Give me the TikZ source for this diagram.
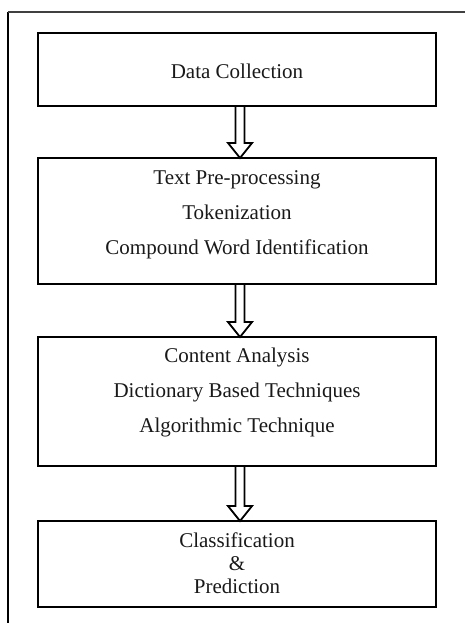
\documentclass[tikz,border=0pt]{standalone}
\usepackage{fontspec}
\setmainfont{Liberation Serif}
\usetikzlibrary{calc}

\newcommand{\hollowdown}[2]{%
\draw[fatarrow] ($(#1.south -| ax)+(-4.5,0)$) -- ($(#2.north -| ax)+(-4.5,-15)$) -- ($(#2.north -| ax)+(-12,-15)$) -- (#2.north -| ax) -- ($(#2.north -| ax)+(12,-15)$) -- ($(#2.north -| ax)+(4.5,-15)$) -- ($(#1.south -| ax)+(4.5,0)$);}

\begin{document}
\begin{tikzpicture}[x=1pt,y=-1pt,line cap=butt,line join=miter,
stagebox/.style={draw,line width=2.4pt,minimum width=398pt,inner sep=0pt,outer sep=0pt},
stagetext/.style={align=center,font=\fontsize{21}{35}\selectfont,text=black!90},
fatarrow/.style={line width=1.8pt}]
\useasboundingbox (0,0) rectangle (465,623);
\coordinate (ax) at (240,0);
\draw[line width=2.6pt] (8,623) -- (8,12);
\draw[line width=1.3pt,black!75] (8,12) -- (465,12);
\node[stagebox,minimum height=73pt] (dc) at (237,69.5) {};
\node[stagebox,minimum height=126pt] (pre) at (237,221) {};
\node[stagebox,minimum height=129pt] (ca) at (237,401.5) {};
\node[stagebox,minimum height=86pt] (cp) at (237,564) {};
\node[stagetext] (dctxt) at (237,71) {Data Collection};
\node[stagetext] (pretxt) at (237,215) {Text Pre-processing\\Tokenization\\Compound Word Identification};
\node[stagetext] (catxt) at (237,392.5) {Content Analysis\\Dictionary Based Techniques\\Algorithmic Technique};
\node[stagetext,font=\fontsize{21}{23}\selectfont] (cptxt) at (237,563) {Classification\\\&\\Prediction};
\hollowdown{dc}{pre}
\hollowdown{pre}{ca}
\hollowdown{ca}{cp}
\end{tikzpicture}
\end{document}
